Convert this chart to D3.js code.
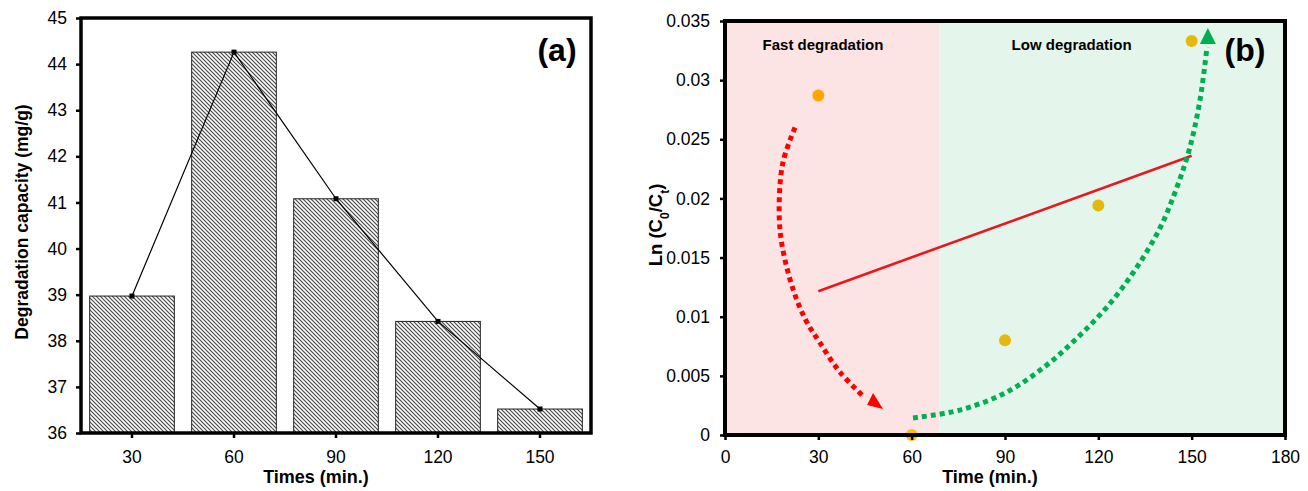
<!DOCTYPE html>
<html><head><meta charset="utf-8">
<script src="https://cdn.jsdelivr.net/npm/d3@7"></script>
<style>
html,body{margin:0;padding:0;background:#fff;}
svg{display:block;}
text{font-family:"Liberation Sans",Arial,sans-serif;fill:#000;}
</style></head><body>
<svg id="chart" width="1308" height="491"></svg>
<script>
// ---- Panel (a): degradation capacity over time ----
const timesA = [30, 60, 90, 120, 150];
const capacity = [38.97, 44.26, 41.08, 38.42, 36.52];
const capacityTicks = [36, 37, 38, 39, 40, 41, 42, 43, 44, 45];

// ---- Panel (b): pseudo-first-order kinetics ----
const timesB = [30, 60, 90, 120, 150];
const lnRatio = [0.0287, 0, 0.0080, 0.0194, 0.0333];
const timeTicks = [0, 30, 60, 90, 120, 150, 180];
const lnTicks = [0, 0.005, 0.01, 0.015, 0.02, 0.025, 0.03, 0.035];
const phaseNames = ["Fast degradation", "Low degradation"];
const phaseBounds = [0, 69, 180];

// guide curves (time, Ln) for the two trend arrows
const fastArrow = [[22.5,0.0260],[18.6,0.0230],[17.4,0.0190],[18.3,0.0161],[21.9,0.0123],[26.0,0.0097],[30.5,0.0078],[37.0,0.0053],[44.7,0.0032]];
const slowArrow = [[60.43,0.00144],[75.54,0.00211],[90.0,0.00355],[102.21,0.00566],[112.5,0.00803],[122.79,0.01082],[131.79,0.01395],[139.82,0.0175],[145.29,0.02097],[149.46,0.02435],[152.68,0.02832],[154.93,0.0328]];

// styling
const pointColors = ["#FFA600", "#FFC000", "#E5B80B", "#E5B80B", "#E5B80B"];
const phaseColors = ["#FDE4E4", "#E4F5EB"];

const svg = d3.select("#chart");
const defs = svg.append("defs");
const pat = defs.append("pattern").attr("id", "hatch")
  .attr("patternUnits", "userSpaceOnUse").attr("width", 4).attr("height", 4);
pat.append("rect").attr("width", 4).attr("height", 4).attr("fill", "#fff");
pat.append("path").attr("d", "M-1,-1L5,5M-1,3L1,5M3,-1L5,1")
  .attr("stroke", "#4a4a4a").attr("stroke-width", 1.2);

function styleAxis(g, fontSize) {
  g.select(".domain").remove();
  g.selectAll(".tick line").attr("stroke", "#000").attr("stroke-width", 2.5);
  g.selectAll(".tick text").attr("font-size", fontSize).attr("fill", "#000")
    .attr("font-family", "'Liberation Sans', Arial, sans-serif");
}

// ================= Panel (a) =================
const A = {l: 81, r: 591, t: 18, b: 433};
const xA = d3.scaleBand().domain(timesA).range([A.l, A.r]).paddingInner(0.17).paddingOuter(0.085);
const yA = d3.scaleLinear().domain([36, 45]).range([A.b, A.t]);

const gA = svg.append("g");
gA.selectAll("rect.bar").data(timesA).join("rect").attr("class", "bar")
  .attr("x", d => xA(d)).attr("width", xA.bandwidth())
  .attr("y", (d, i) => yA(capacity[i]))
  .attr("height", (d, i) => yA(36) - yA(capacity[i]))
  .attr("fill", "url(#hatch)").attr("stroke", "#222").attr("stroke-width", 1);

const lineA = d3.line().x((d, i) => xA(timesA[i]) + xA.bandwidth() / 2).y(d => yA(d));
gA.append("path").datum(capacity).attr("d", lineA)
  .attr("fill", "none").attr("stroke", "#000").attr("stroke-width", 1.2);
gA.selectAll("rect.mk").data(capacity).join("rect").attr("class", "mk")
  .attr("x", (d, i) => xA(timesA[i]) + xA.bandwidth() / 2 - 2.5)
  .attr("y", d => yA(d) - 2.5).attr("width", 5).attr("height", 5).attr("fill", "#000");

gA.append("g").attr("transform", `translate(${A.l},0)`)
  .call(d3.axisLeft(yA).tickValues(capacityTicks).tickSize(5).tickPadding(9).tickFormat(d3.format("d")))
  .call(g => styleAxis(g, 17.5));
gA.append("g").attr("transform", `translate(0,${A.b})`)
  .call(d3.axisBottom(xA).tickSize(5).tickPadding(13))
  .call(g => styleAxis(g, 17.5));

gA.append("rect").attr("x", A.l).attr("y", A.t).attr("width", A.r - A.l).attr("height", A.b - A.t)
  .attr("fill", "none").attr("stroke", "#000").attr("stroke-width", 3.5);

gA.append("text").attr("x", 316).attr("y", 483).attr("text-anchor", "middle")
  .attr("font-weight", "bold").attr("font-size", 18).text("Times (min.)");
gA.append("text").attr("transform", "translate(28,222) rotate(-90)").attr("text-anchor", "middle")
  .attr("font-weight", "bold").attr("font-size", 17.5).text("Degradation capacity (mg/g)");
gA.append("text").attr("x", 557).attr("y", 61).attr("text-anchor", "middle")
  .attr("font-family", "Lato, 'Open Sans', sans-serif").attr("font-weight", "bold")
  .attr("font-size", 32).text("(a)");

// ================= Panel (b) =================
const B = {l: 725, r: 1285, t: 21, b: 435};
const xB = d3.scaleLinear().domain([0, 180]).range([B.l, B.r]);
const yB = d3.scaleLinear().domain([0, 0.035]).range([B.b, B.t]);
const gB = svg.append("g");

// kinetic phases
gB.selectAll("rect.phase").data(phaseNames).join("rect").attr("class", "phase")
  .attr("x", (d, i) => xB(phaseBounds[i])).attr("width", (d, i) => xB(phaseBounds[i + 1]) - xB(phaseBounds[i]))
  .attr("y", B.t).attr("height", B.b - B.t).attr("fill", (d, i) => phaseColors[i]);
const phaseLabelAt = [31.5, 111.4];
gB.selectAll("text.phase").data(phaseNames).join("text").attr("class", "phase")
  .attr("x", (d, i) => xB(phaseLabelAt[i])).attr("y", 50).attr("text-anchor", "middle")
  .attr("font-family", "Lato, 'Open Sans', sans-serif").attr("font-weight", "bold")
  .attr("font-size", 15).text(d => d);

// least-squares fit of ln(C0/Ct) against time
const mx = d3.mean(timesB), my = d3.mean(lnRatio);
const slope = d3.sum(timesB, (t, i) => (t - mx) * (lnRatio[i] - my)) / d3.sum(timesB, t => (t - mx) ** 2);
const icpt = my - slope * mx;
const fitX = d3.extent(timesB);
gB.append("line")
  .attr("x1", xB(fitX[0])).attr("y1", yB(icpt + slope * fitX[0]))
  .attr("x2", xB(fitX[1])).attr("y2", yB(icpt + slope * fitX[1]))
  .attr("stroke", "#E8181E").attr("stroke-width", 2.6);

// trend arrows
const guide = d3.line().x(d => xB(d[0])).y(d => yB(d[1])).curve(d3.curveCatmullRom.alpha(0.5));
gB.append("path").datum(fastArrow).attr("d", guide).attr("fill", "none")
  .attr("stroke", "#FF0000").attr("stroke-width", 5).attr("stroke-dasharray", "5 4");
gB.append("path").datum(slowArrow).attr("d", guide).attr("fill", "none")
  .attr("stroke", "#00B050").attr("stroke-width", 5).attr("stroke-dasharray", "5 4");
// arrowheads
const redTip = [xB(47.6), yB(0.00355)];
gB.append("path").attr("d", `M${redTip[0]},${redTip[1]}l-6,12l16,4z`).attr("fill", "#FF0000");
const greenTip = [xB(155.2), yB(0.0344)];
gB.append("path").attr("d", `M${greenTip[0]},${greenTip[1]}l-8,16l16,0z`).attr("fill", "#00B050");

// measured points
gB.selectAll("circle").data(timesB).join("circle")
  .attr("cx", d => xB(d)).attr("cy", (d, i) => yB(lnRatio[i])).attr("r", 6)
  .attr("fill", (d, i) => pointColors[i]);

gB.append("g").attr("transform", `translate(${B.l},0)`)
  .call(d3.axisLeft(yB).tickValues(lnTicks).tickSize(5).tickPadding(10).tickFormat(d => d === 0 ? "0" : String(+d.toFixed(3))))
  .call(g => styleAxis(g, 17.5));
gB.append("g").attr("transform", `translate(0,${B.b})`)
  .call(d3.axisBottom(xB).tickValues(timeTicks).tickSize(5).tickPadding(11).tickFormat(d3.format("d")))
  .call(g => styleAxis(g, 17.5));

gB.append("rect").attr("x", B.l).attr("y", B.t).attr("width", B.r - B.l).attr("height", B.b - B.t)
  .attr("fill", "none").attr("stroke", "#000").attr("stroke-width", 4);

gB.append("text").attr("x", 990).attr("y", 483).attr("text-anchor", "middle")
  .attr("font-weight", "bold").attr("font-size", 18).text("Time (min.)");
const yt = gB.append("text").attr("transform", "translate(662,225) rotate(-90)")
  .attr("text-anchor", "middle").attr("font-weight", "bold").attr("font-size", 18.5);
yt.append("tspan").text("Ln (C");
yt.append("tspan").attr("baseline-shift", "sub").attr("font-size", 12).text("0");
yt.append("tspan").text("/C");
yt.append("tspan").attr("baseline-shift", "sub").attr("font-size", 12).text("t");
yt.append("tspan").text(")");
gB.append("text").attr("x", 1245).attr("y", 61).attr("text-anchor", "middle")
  .attr("font-family", "Lato, 'Open Sans', sans-serif").attr("font-weight", "bold")
  .attr("font-size", 32).text("(b)");
</script>
</body></html>
